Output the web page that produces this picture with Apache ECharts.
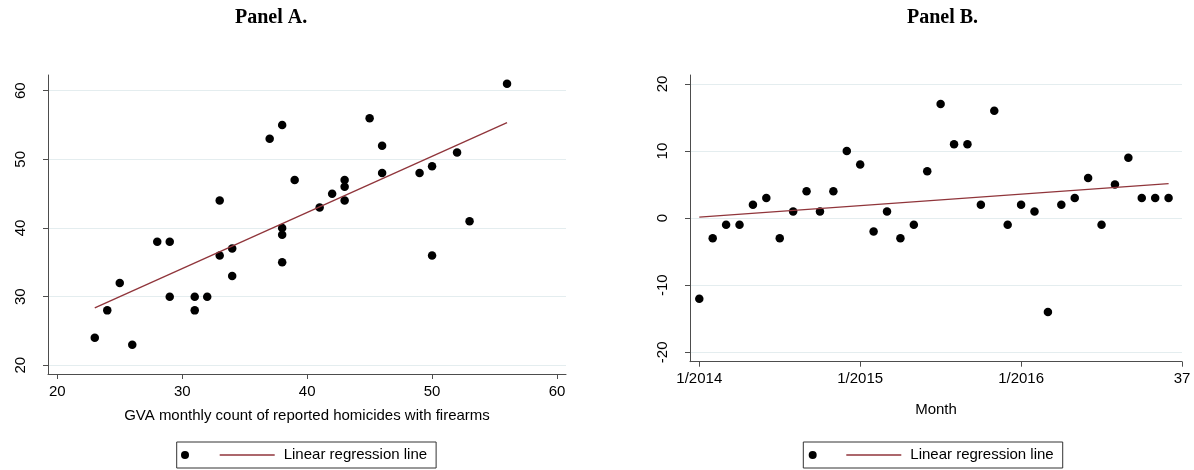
<!DOCTYPE html>
<html><head><meta charset="utf-8">
<script src="https://cdn.jsdelivr.net/npm/echarts@6/dist/echarts.min.js"></script>
<style>html,body{margin:0;padding:0;background:#fff}#c{width:1194px;height:470px}</style>
</head><body><div id="c"></div>
<script>
// ---- Panel A data ----
const panelA_firearmHomicides = [23,24,25,26,28,29,29,31,31,32,33,33,34,34,37,38,38,38,38,39,41,42,43,43,43,45,46,46,49,50,50,52,53,56];
const panelA_outcome          = [24,28,32,23,38,38,30,30,28,30,44,36,37,33,53,55,40,39,35,47,43,45,47,46,44,56,52,48,48,49,36,51,41,61];
const panelA_fitX = [23, 56];
const panelA_fitY = [28.35, 55.35];
const panelA_ticksX = [20, 30, 40, 50, 60];
const panelA_ticksY = [20, 30, 40, 50, 60];

// ---- Panel B data ----
const panelB_month = [1,2,3,4,5,6,7,8,9,10,11,12,13,14,15,16,17,18,19,20,21,22,23,24,25,26,27,28,29,30,31,32,33,34,35,36];
const panelB_value = [-12,-3,-1,-1,2,3,-3,1,4,1,4,10,8,-2,1,-3,-1,7,17,11,11,2,16,-1,2,1,-14,2,3,6,-1,5,9,3,3,3];
const panelB_fitX = [1, 36];
const panelB_fitY = [0.14, 5.14];
const panelB_ticksX = [1, 13, 25, 37];
const panelB_tickLabelsX = ['1/2014', '1/2015', '1/2016', '37'];
const panelB_ticksY = [-20, -10, 0, 10, 20];

const zip = (a, b) => a.map((v, i) => [v, b[i]]);

const AXIS_COLOR = '#4d4d4d';
const GRID_COLOR = '#e4edef';
const FIT_COLOR = '#90353b';
const FONT = 'Liberation Sans, Arial, sans-serif';

function xAxisCfg(gridIndex, min, max, ticks, labels, name, nameGap) {
  return {
    type: 'value', gridIndex, min, max,
    name, nameLocation: 'middle', nameGap,
    nameTextStyle: { fontFamily: FONT, fontSize: 15, color: '#000' },
    axisLine: { show: true, onZero: false, lineStyle: { color: AXIS_COLOR, width: 1 } },
    axisTick: { show: true, length: 5, customValues: ticks, lineStyle: { color: AXIS_COLOR } },
    axisLabel: {
      customValues: ticks, margin: 10, fontFamily: FONT, fontSize: 15, color: '#000',
      formatter: labels ? (v) => labels[ticks.indexOf(v)] : (v) => String(v)
    },
    splitLine: { show: false }
  };
}
function yAxisCfg(gridIndex, min, max, ticks) {
  return {
    type: 'value', gridIndex, min, max,
    axisLine: { show: true, onZero: false, lineStyle: { color: AXIS_COLOR, width: 1 } },
    axisTick: { show: true, length: 5, customValues: ticks, lineStyle: { color: AXIS_COLOR } },
    axisLabel: { customValues: ticks, rotate: 90, margin: 20, fontFamily: FONT, fontSize: 15, color: '#000' },
    splitLine: { show: true, lineStyle: { color: GRID_COLOR, width: 1 } }
  };
}
function markerLegend(left, seriesName) {
  return {
    data: [seriesName], left, top: 451, padding: 0, itemWidth: 8, itemHeight: 8,
    selectedMode: false, formatter: () => '', textStyle: { fontSize: 1 }
  };
}
function lineLegend(left) {
  return {
    data: [{ name: 'Linear regression line', icon: 'rect' }], left, top: 442, padding: [5, 9, 5, 43],
    itemWidth: 55, itemHeight: 1.3, selectedMode: false,
    borderColor: '#333', borderWidth: 1, borderRadius: 0,
    itemStyle: { color: FIT_COLOR, opacity: 1 },
    textStyle: { fontFamily: FONT, fontSize: 15, color: '#000', lineHeight: 16, padding: [0, 0, 0, 4] }
  };
}

const option = {
  animation: false,
  backgroundColor: '#fff',
  title: [
    { text: 'Panel A.', left: 235, top: 8, padding: 0,
      textStyle: { fontFamily: 'Liberation Serif, Times New Roman, serif', fontWeight: 'bold', fontSize: 20, color: '#000' } },
    { text: 'Panel B.', left: 907, top: 8, padding: 0,
      textStyle: { fontFamily: 'Liberation Serif, Times New Roman, serif', fontWeight: 'bold', fontSize: 20, color: '#000' } }
  ],
  grid: [
    { left: 48, top: 75, width: 518, height: 299, containLabel: false, outerBoundsMode: 'none' },
    { left: 690, top: 75, width: 492, height: 286.7, containLabel: false, outerBoundsMode: 'none' }
  ],
  xAxis: [
    xAxisCfg(0, 19.255, 60.72, panelA_ticksX, null, 'GVA monthly count of reported homicides with firearms', 34),
    xAxisCfg(1, 0.307, 37, panelB_ticksX, panelB_tickLabelsX, 'Month', 41)
  ],
  yAxis: [
    yAxisCfg(0, 18.73, 62.29, panelA_ticksY),
    yAxisCfg(1, -21.40, 21.34, panelB_ticksY)
  ],
  legend: [
    lineLegend(176.7), markerLegend(181, 'pointsA'),
    lineLegend(803.3), markerLegend(808.7, 'pointsB')
  ],
  series: [
    { name: 'pointsA', type: 'scatter', xAxisIndex: 0, yAxisIndex: 0, symbol: 'circle', symbolSize: 8.5,
      itemStyle: { color: '#000', opacity: 1 }, data: zip(panelA_firearmHomicides, panelA_outcome), z: 3 },
    { name: 'Linear regression line', type: 'line', xAxisIndex: 0, yAxisIndex: 0, symbol: 'none',
      lineStyle: { color: FIT_COLOR, width: 1.3 }, itemStyle: { color: FIT_COLOR }, data: zip(panelA_fitX, panelA_fitY), z: 4 },
    { name: 'pointsB', type: 'scatter', xAxisIndex: 1, yAxisIndex: 1, symbol: 'circle', symbolSize: 8.5,
      itemStyle: { color: '#000', opacity: 1 }, data: zip(panelB_month, panelB_value), z: 3 },
    { name: 'Linear regression line', type: 'line', xAxisIndex: 1, yAxisIndex: 1, symbol: 'none',
      lineStyle: { color: FIT_COLOR, width: 1.3 }, itemStyle: { color: FIT_COLOR }, data: zip(panelB_fitX, panelB_fitY), z: 4 }
  ]
};

const chart = echarts.init(document.getElementById('c'), null, { renderer: 'canvas' });
chart.setOption(option);
</script>
</body></html>
